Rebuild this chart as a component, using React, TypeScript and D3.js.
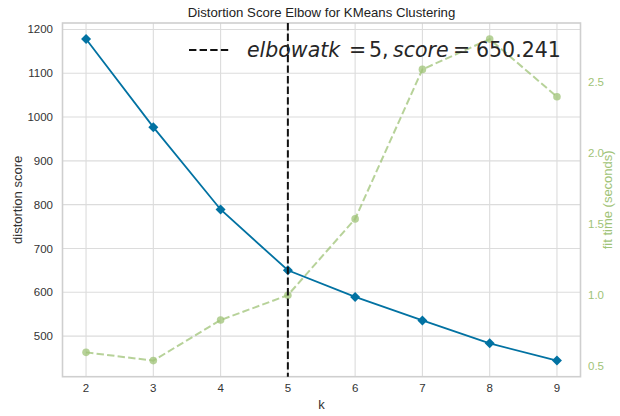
import React from "react";
import * as d3 from "d3";

const kValues = [2, 3, 4, 5, 6, 7, 8, 9];
const distortion = [1178, 977, 789, 650.241, 589.5, 535.7, 483.4, 444];
const fitTime = [0.598, 0.54, 0.825, 1.0, 1.536, 2.587, 2.8, 2.395];
const leftTicks = [500, 600, 700, 800, 900, 1000, 1100, 1200];
const rightTicks = [0.5, 1.0, 1.5, 2.0, 2.5];
const elbowK = 5;
const elbowScore = "650.241";

const W = 620, H = 416;
const M = { left: 62.5, right: 580.5, top: 23, bottom: 376.7 };
const BLUE = "#0272a2";
const GREEN = "#9fc377";
const FONT = "'Liberation Sans', Arial, sans-serif";
const MATH = "'DejaVu Sans', sans-serif";

function padDomain(vals: number[]): [number, number] {
  const [mn, mx] = d3.extent(vals) as [number, number];
  const p = (mx - mn) * 0.05;
  return [mn - p, mx + p];
}

export default function App() {
  const x = d3.scaleLinear().domain(padDomain(kValues)).range([M.left, M.right]);
  const y = d3.scaleLinear().domain(padDomain(distortion)).range([M.bottom, M.top]);
  const y2 = d3.scaleLinear().domain(padDomain(fitTime)).range([M.bottom, M.top]);

  const lineBlue = d3.line<number>().x((_, i) => x(kValues[i])).y((d) => y(d));
  const lineGreen = d3.line<number>().x((_, i) => x(kValues[i])).y((d) => y2(d));

  const cx = (M.left + M.right) / 2;
  const cy = (M.top + M.bottom) / 2;

  return (
    <svg width={W} height={H} style={{ position: "absolute", left: 0, top: 0, background: "#fff" }}>
      <rect x={0} y={0} width={W} height={H} fill="#fff" />
      {/* grid */}
      {kValues.map((k) => (
        <line key={"gx" + k} x1={x(k)} x2={x(k)} y1={M.top} y2={M.bottom} stroke="#dcdcdc" strokeWidth={1.1} />
      ))}
      {leftTicks.map((t) => (
        <line key={"gy" + t} x1={M.left} x2={M.right} y1={y(t)} y2={y(t)} stroke="#dcdcdc" strokeWidth={1.1} />
      ))}
      {/* frame */}
      <rect x={M.left} y={M.top} width={M.right - M.left} height={M.bottom - M.top} fill="none" stroke="#cfcfcf" strokeWidth={1.6} />

      {/* fit time */}
      <path d={lineGreen(fitTime) || ""} fill="none" stroke={GREEN} strokeOpacity={0.75} strokeWidth={2} strokeDasharray="7.4,3.2" />
      {fitTime.map((v, i) => (
        <circle key={"c" + i} cx={x(kValues[i])} cy={y2(v)} r={3.8} fill={GREEN} fillOpacity={0.75} />
      ))}

      {/* distortion */}
      <path d={lineBlue(distortion) || ""} fill="none" stroke={BLUE} strokeWidth={1.8} />
      {distortion.map((v, i) => {
        const px = x(kValues[i]), py = y(v), s = 5;
        return (
          <path key={"d" + i} d={`M${px},${py - s}L${px + s},${py}L${px},${py + s}L${px - s},${py}Z`} fill={BLUE} />
        );
      })}

      {/* elbow line */}
      <line x1={x(elbowK)} x2={x(elbowK)} y1={M.top} y2={M.bottom} stroke="#111" strokeWidth={2} strokeDasharray="7.4,3.2" />

      {/* legend */}
      <line x1={189} x2={231} y1={50} y2={50} stroke="#111" strokeWidth={2} strokeDasharray="7.4,3.2" />
      <text y={57} fontFamily={MATH} fontSize={20.5} fill="#262626">
        <tspan x={247} fontStyle="italic">elbowatk</tspan>
        <tspan x={349}>=</tspan>
        <tspan x={369}>5</tspan>
        <tspan x={382}>,</tspan>
        <tspan x={393} fontStyle="italic">score</tspan>
        <tspan x={453}>=</tspan>
        <tspan x={476}>{elbowScore}</tspan>
      </text>

      {/* left ticks */}
      {leftTicks.map((t) => (
        <text key={"lt" + t} x={53} y={y(t)} dy="0.35em" textAnchor="end" fontFamily={FONT} fontSize={11.5} fill="#333">
          {t}
        </text>
      ))}
      {/* right ticks */}
      {rightTicks.map((t) => (
        <text key={"rt" + t} x={588} y={y2(t)} dy="0.35em" textAnchor="start" fontFamily={FONT} fontSize={11.5} fill={GREEN}>
          {t.toFixed(1)}
        </text>
      ))}
      {/* x ticks */}
      {kValues.map((k) => (
        <text key={"xt" + k} x={x(k)} y={388} dy="0.35em" textAnchor="middle" fontFamily={FONT} fontSize={11.5} fill="#333">
          {k}
        </text>
      ))}

      {/* labels */}
      <text x={cx} y={12} dy="0.35em" textAnchor="middle" fontFamily={FONT} fontSize={13.2} fill="#222">
        Distortion Score Elbow for KMeans Clustering
      </text>
      <text x={cx} y={404} dy="0.35em" textAnchor="middle" fontFamily={FONT} fontSize={13} fill="#333">
        k
      </text>
      <text transform={`translate(17,${cy}) rotate(-90)`} dy="0.35em" textAnchor="middle" fontFamily={FONT} fontSize={13} fill="#333">
        distortion score
      </text>
      <text transform={`translate(607,${cy}) rotate(-90)`} dy="0.35em" textAnchor="middle" fontFamily={FONT} fontSize={13} fill={GREEN}>
        fit time (seconds)
      </text>
    </svg>
  );
}
